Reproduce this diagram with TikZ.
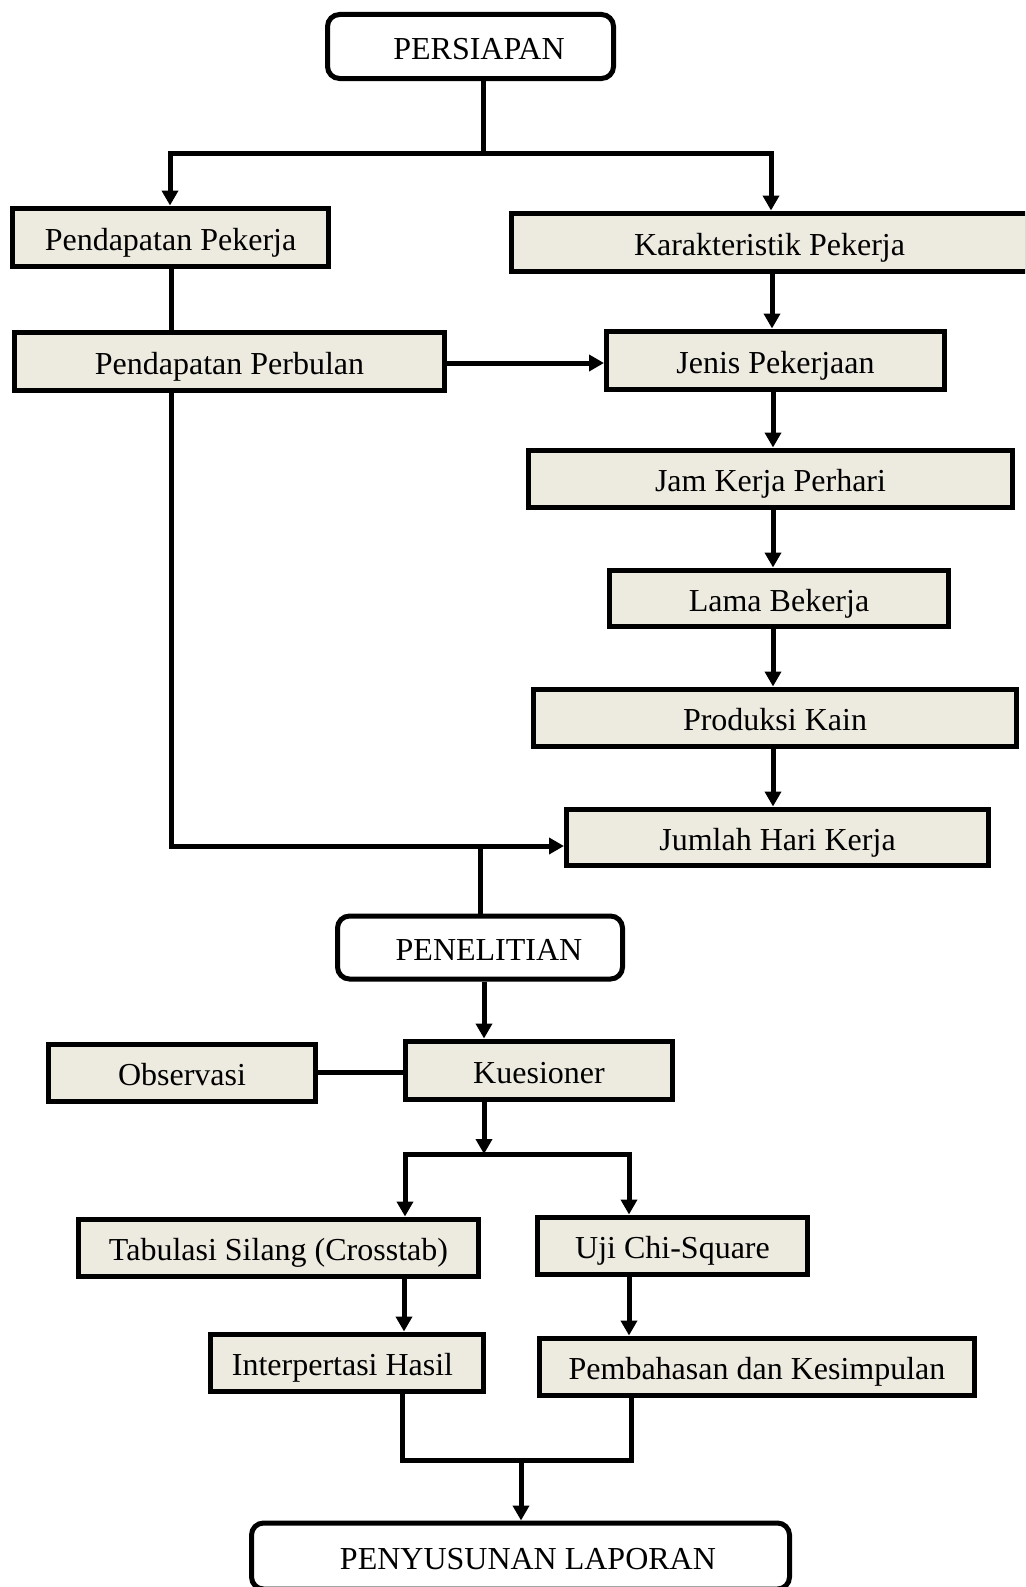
\documentclass[tikz,border=0pt]{standalone}
\usepackage{fontspec}
\setmainfont{Liberation Serif}
\usetikzlibrary{arrows.meta,shadows}
\definecolor{boxfill}{RGB}{237,235,224}
\tikzset{
  base/.style={draw=black, line width=5pt, inner sep=0pt, anchor=center,
    text height=30pt, text depth=4pt,
    font=\fontsize{32pt}{38pt}\selectfont,
    drop shadow={opacity=0.25,shadow xshift=1.5pt,shadow yshift=-2pt}},
  pbox/.style={base, rectangle, fill=boxfill},
  rbox/.style={base, rectangle, rounded corners=12pt, fill=white},
  conn/.style={draw=black, line width=5pt},
  arr/.style={conn, -{Triangle[width=16pt,length=15pt]}},
}
\begin{document}
\begin{tikzpicture}[x=1pt,y=-1pt]
\clip (0,0) rectangle (1025,1587);
\fill[white] (0,0) rectangle (1025,1587);

% nodes
\node[rbox, minimum width=286pt, minimum height=64pt] (persiapan) at (470.5,46.5) {\hspace{17pt}PERSIAPAN};
\node[pbox, minimum width=316pt, minimum height=58pt] (ppek) at (170.5,237) {Pendapatan Pekerja};
\node[pbox, minimum width=516pt, minimum height=58pt] (kpek) at (769.5,242) {Karakteristik Pekerja};
\node[pbox, minimum width=430pt, minimum height=58pt] (pbul) at (229.5,361.5) {Pendapatan Perbulan};
\node[pbox, minimum width=338pt, minimum height=58pt] (jenis) at (775.5,360) {Jenis Pekerjaan};
\node[pbox, minimum width=484pt, minimum height=57pt] (jam) at (770.5,478.5) {Jam Kerja Perhari};
\node[pbox, minimum width=339pt, minimum height=56pt] (lama) at (779,598) {Lama Bekerja};
\node[pbox, minimum width=483pt, minimum height=57pt] (prod) at (775,717.5) {Produksi Kain};
\node[pbox, minimum width=422pt, minimum height=56pt] (jumlah) at (777.5,837) {Jumlah Hari Kerja};
\node[rbox, minimum width=285pt, minimum height=63pt] (penelitian) at (480,947.5) {\hspace{18pt}PENELITIAN};
\node[pbox, minimum width=267pt, minimum height=57pt] (obs) at (182,1072.5) {Observasi};
\node[pbox, minimum width=267pt, minimum height=58pt] (kues) at (539,1070) {Kuesioner};
\node[pbox, minimum width=400pt, minimum height=57pt] (tab) at (278.5,1247.5) {Tabulasi Silang (Crosstab)};
\node[pbox, minimum width=270pt, minimum height=57pt] (uji) at (672.5,1245.5) {Uji Chi-Square};
\node[pbox, minimum width=273pt, minimum height=57pt] (interp) at (347,1362.5) {\hspace{-9pt}Interpertasi Hasil};
\node[pbox, minimum width=435pt, minimum height=57pt] (pemb) at (757,1366.5) {Pembahasan dan Kesimpulan};
\node[rbox, minimum width=538pt, minimum height=66pt] (lapor) at (520.5,1556) {\hspace{15pt}PENYUSUNAN LAPORAN};

% coordinates
\coordinate (t1) at (483,153);
\coordinate (t1l) at (170,153);
\coordinate (t1r) at (771,153);
\coordinate (lc) at (171,846);
\coordinate (b2) at (480,846);
\coordinate (k1) at (484,1154);
\coordinate (k1l) at (405,1154);
\coordinate (k1r) at (629,1154);
\coordinate (m1l) at (402,1460);
\coordinate (m1r) at (631,1460);
\coordinate (m1) at (521,1460);

% connectors
\draw[conn] (persiapan.south -| t1) -- (t1);
\draw[arr] (t1) -- (t1l) -- (ppek.north -| t1l);
\draw[arr] (t1) -- (t1r) -- (kpek.north -| t1r);
\draw[conn] (ppek.south -| lc) -- (pbul.north -| lc);
\draw[arr] (pbul.east |- 0,363) -- (jenis.west |- 0,363);
\draw[arr] (kpek.south -| 772,0) -- (jenis.north -| 772,0);
\draw[arr] (jenis.south -| 773,0) -- (jam.north -| 773,0);
\draw[arr] (jam.south -| 773,0) -- (lama.north -| 773,0);
\draw[arr] (lama.south -| 773,0) -- (prod.north -| 773,0);
\draw[arr] (prod.south -| 773,0) -- (jumlah.north -| 773,0);
\draw[arr] (pbul.south -| lc) -- (lc) -- (jumlah.west |- lc);
\draw[conn] (b2) -- (penelitian.north -| b2);
\draw[arr] (penelitian.south -| k1) -- (kues.north -| k1);
\draw[conn] (obs.east) -- (kues.west |- obs.east);
\draw[arr] (kues.south -| k1) -- (k1);
\draw[arr] (k1) -- (k1l) -- (tab.north -| k1l);
\draw[arr] (k1) -- (k1r) -- (uji.north -| k1r);
\draw[arr] (tab.south -| 404,0) -- (interp.north -| 404,0);
\draw[arr] (uji.south -| k1r) -- (pemb.north -| k1r);
\draw[conn] (interp.south -| m1l) -- (m1l) -- (m1r) -- (pemb.south -| m1r);
\draw[arr] (m1) -- (lapor.north -| m1);
\end{tikzpicture}
\end{document}
